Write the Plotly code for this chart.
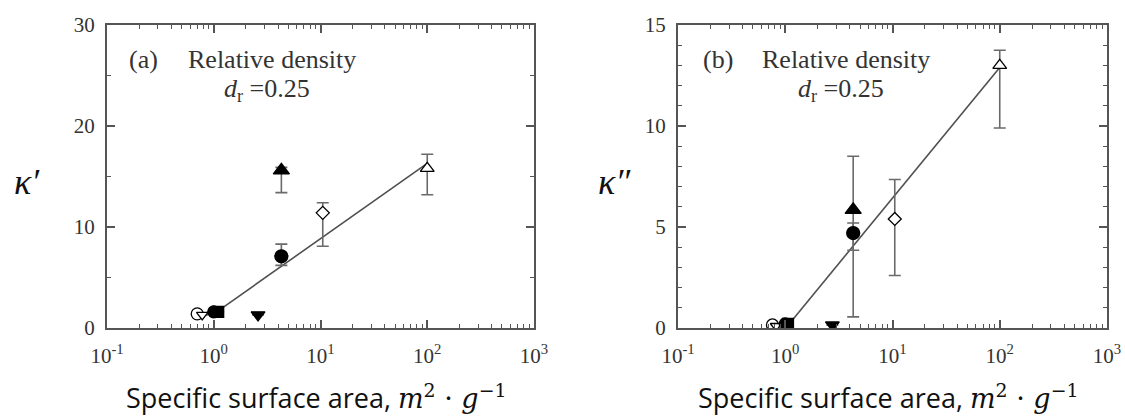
import plotly.graph_objects as go

# ---- data -------------------------------------------------------------
# specific surface area (m^2/g) of each sample, panel (a) and panel (b)
ssa_a = [0.70, 0.78, 1.0, 1.1, 2.6, 4.3, 4.3, 10.5, 100]
ssa_b = [0.76, 0.82, 1.0, 1.06, 2.75, 4.3, 4.3, 10.5, 100]

# kappa' (panel a) with asymmetric error bars
kappa1 = [1.4, 1.3, 1.6, 1.6, 1.3, 7.1, 15.6, 11.4, 15.8]
kappa1_plus = [None, None, None, None, None, 1.2, 0.3, 1.0, 1.4]
kappa1_minus = [None, None, None, None, None, 0.9, 2.2, 3.3, 2.6]

# kappa'' (panel b) with asymmetric error bars
kappa2 = [0.15, 0.1, 0.2, 0.2, 0.15, 4.7, 5.85, 5.4, 13.0]
kappa2_plus = [None, None, None, None, None, 0.5, 2.65, 1.95, 0.75]
kappa2_minus = [None, None, None, None, None, 0.85, 5.3, 2.8, 3.1]

# fitted trend lines (end points)
fit_a_x = [1.1, 100]
fit_a_y = [1.7, 16.3]
fit_b_x = [1.05, 100]
fit_b_y = [0.1, 12.9]

x_tickvals = [0.1, 1, 10, 100, 1000]
x_ticktext = ["10<sup>-1</sup>", "10<sup>0</sup>", "10<sup>1</sup>",
              "10<sup>2</sup>", "10<sup>3</sup>"]
# minor log ticks 2..9 within each decade
x_minor = [m * 10.0 ** e for e in range(-1, 3) for m in range(2, 10)]

# ---- marker styles per sample -----------------------------------------
symbols = ["circle", "triangle-down", "circle", "square", "triangle-down",
           "circle", "triangle-up", "diamond", "triangle-up"]
fills = ["white", "white", "black", "black", "black",
         "black", "black", "white", "white"]
sizes = [12, 10, 12, 11, 12, 13, 14, 10, 12]

AX = "#555555"
TXT = "#333333"
SERIF = "Liberation Serif"

fig = go.Figure()

def add_panel(xs, ys, plus, minus, fx, fy, xa, ya):
    fig.add_trace(go.Scatter(
        x=fx, y=fy, mode="lines", xaxis=xa, yaxis=ya,
        line=dict(color="#505050", width=1.6), showlegend=False,
        hoverinfo="skip"))
    fig.add_trace(go.Scatter(
        x=xs, y=ys, mode="markers", xaxis=xa, yaxis=ya, showlegend=False,
        marker=dict(symbol=symbols, color=fills, size=sizes, opacity=1,
                    line=dict(color="black", width=1.3)),
        error_y=dict(type="data", symmetric=False, array=plus,
                     arrayminus=minus, color="#6a6a6a", thickness=1.6,
                     width=6)))

add_panel(ssa_a, kappa1, kappa1_plus, kappa1_minus, fit_a_x, fit_a_y, "x", "y")
add_panel(ssa_b, kappa2, kappa2_plus, kappa2_minus, fit_b_x, fit_b_y, "x2", "y2")

common_x = dict(
    type="log", range=[-1, 3], tickmode="array",
    tickvals=x_tickvals, ticktext=x_ticktext, automargin=False,
    showline=True, linecolor=AX, linewidth=2, mirror="ticks",
    ticks="inside", ticklen=8, tickwidth=1.5, tickcolor=AX,
    showgrid=False, zeroline=False, ticklabelstandoff=8,
    tickfont=dict(family=SERIF, size=21, color=TXT),
    minor=dict(ticks="inside", ticklen=4, tickwidth=1.2, tickcolor=AX,
               tickmode="array", tickvals=x_minor, showgrid=False),
)
common_y = dict(
    showline=True, linecolor=AX, linewidth=2, mirror="ticks",
    ticks="inside", ticklen=8, tickwidth=1.5, tickcolor=AX,
    showgrid=False, zeroline=False, ticklabelstandoff=6, automargin=False,
    tickfont=dict(family=SERIF, size=21, color=TXT),
)

y_dom = [1 - 328 / 418, 1 - 25 / 418]
fig.update_layout(
    width=1125, height=418, margin=dict(l=0, r=0, t=0, b=0),
    paper_bgcolor="white", plot_bgcolor="white",
    xaxis=dict(domain=[107 / 1125, 534 / 1125], anchor="y", **common_x),
    yaxis=dict(domain=y_dom, anchor="x", range=[0, 30], dtick=10,
               minor=dict(ticks="inside", ticklen=4, tickwidth=1.2,
                          tickcolor=AX, dtick=5, showgrid=False),
               **common_y),
    xaxis2=dict(domain=[678 / 1125, 1107 / 1125], anchor="y2", **common_x),
    yaxis2=dict(domain=y_dom, anchor="x2", range=[0, 15], dtick=5,
                minor=dict(ticks="inside", ticklen=4, tickwidth=1.2,
                           tickcolor=AX, dtick=1, showgrid=False),
                **common_y),
)

def ann(text, x, y, size, family=SERIF, xanchor="left", color=TXT):
    fig.add_annotation(text=text, x=x / 1125, y=1 - y / 418, xref="paper",
                       yref="paper", xanchor=xanchor, yanchor="middle",
                       showarrow=False,
                       font=dict(family=family, size=size, color=color))

# in-panel labels
for x0, tag in [(127, "(a)"), (701, "(b)")]:
    ann(tag, x0, 60, 26)
    ann("Relative density", x0 + 59, 60, 26)
    ann("<i>d</i><sub>r</sub> =0.25", x0 + 95, 90, 26)

# axis titles
xt = ("Specific surface area, "
      "<span style=\"font-family:'DejaVu Serif'\"><i>m</i><sup>2</sup> · "
      "<i>g</i><sup>−1</sup></span>")
ann(xt, 316, 397, 27, family="Open Sans", xanchor="center", color="#111")
ann(xt, 888, 397, 27, family="Open Sans", xanchor="center", color="#111")
ann("<i>κ′</i>", 27, 182, 36, family="Liberation Serif", xanchor="center",
    color="#111")
ann("<i>κ″</i>", 614, 182, 36, family="Liberation Serif", xanchor="center",
    color="#111")

fig.write_html("out.html")
